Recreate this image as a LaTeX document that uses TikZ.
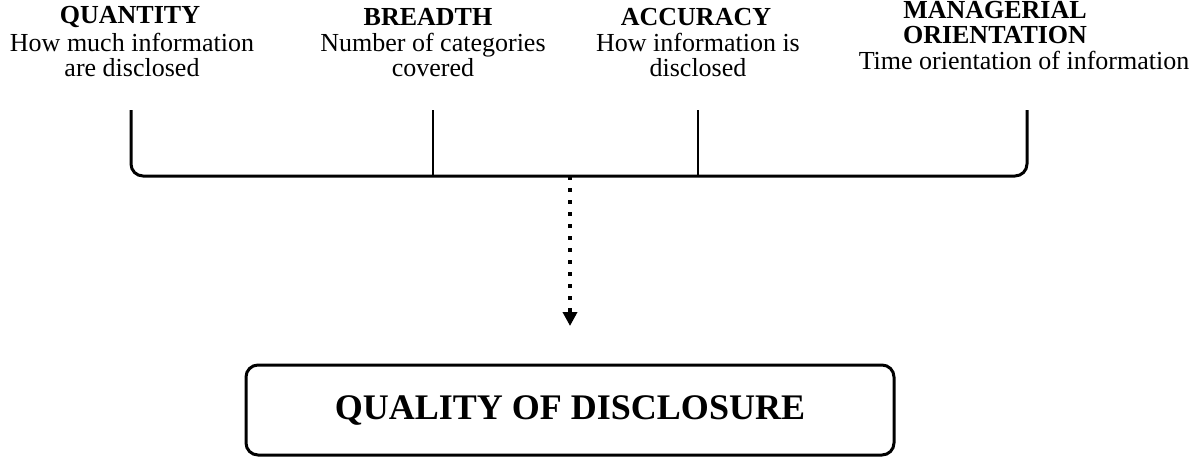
\documentclass[tikz,border=0pt]{standalone}
\usepackage{fontspec}
\setmainfont{Liberation Serif}
\usetikzlibrary{arrows.meta,positioning}
\tikzset{every path/.style={line width=1.5pt},
  headtitle/.style={font=\fontsize{13}{12.5}\selectfont\bfseries, align=center, inner sep=0pt},
  headtext/.style={font=\fontsize{13}{12.5}\selectfont, align=center, inner sep=0pt},
  qualbox/.style={draw, rounded corners=6pt, minimum width=324pt, minimum height=45pt,
    font=\fontsize{18}{22}\selectfont\bfseries}}

\begin{document}
\begin{tikzpicture}[x=0.5pt,y=-0.5pt]
  \useasboundingbox (0,0) rectangle (1198,457);
  % column headings
  \node[headtitle] (qtyT) at (130,17) {QUANTITY};
  \node[headtext]  (qtyD) at (132,55) {How much information\\are disclosed};
  \node[headtitle] (brdT) at (428,17) {BREADTH};
  \node[headtext]  (brdD) at (433,55) {Number of categories\\covered};
  \node[headtitle] (accT) at (696,17) {ACCURACY};
  \node[headtext]  (accD) at (698,55) {How information is\\disclosed};
  \node[headtitle] (manT) at (995,23) {MANAGERIAL\\ORIENTATION};
  \node[headtext]  (manD) at (1024,60) {Time orientation of information};
  % bracket
  \coordinate (qtyTop) at (131,110);
  \coordinate (manTop) at (1027,110);
  \coordinate (brdTop) at (433,110);
  \coordinate (accTop) at (698,110);
  \coordinate (mid) at (570,176);
  \draw[rounded corners=6pt] (qtyTop) |- (mid) -| (manTop);
  \draw[line width=1.2pt] (brdTop) -- (brdTop |- mid);
  \draw[line width=1.2pt] (accTop) -- (accTop |- mid);
  % result
  \node[qualbox] (qual) at (570,410) {QUALITY OF DISCLOSURE};
  \coordinate (tip) at (570,326);
  \draw[line width=2pt, dash pattern=on 2pt off 4pt, -{Triangle[width=7pt,length=7pt]}] (mid) -- (tip);
\end{tikzpicture}
\end{document}
